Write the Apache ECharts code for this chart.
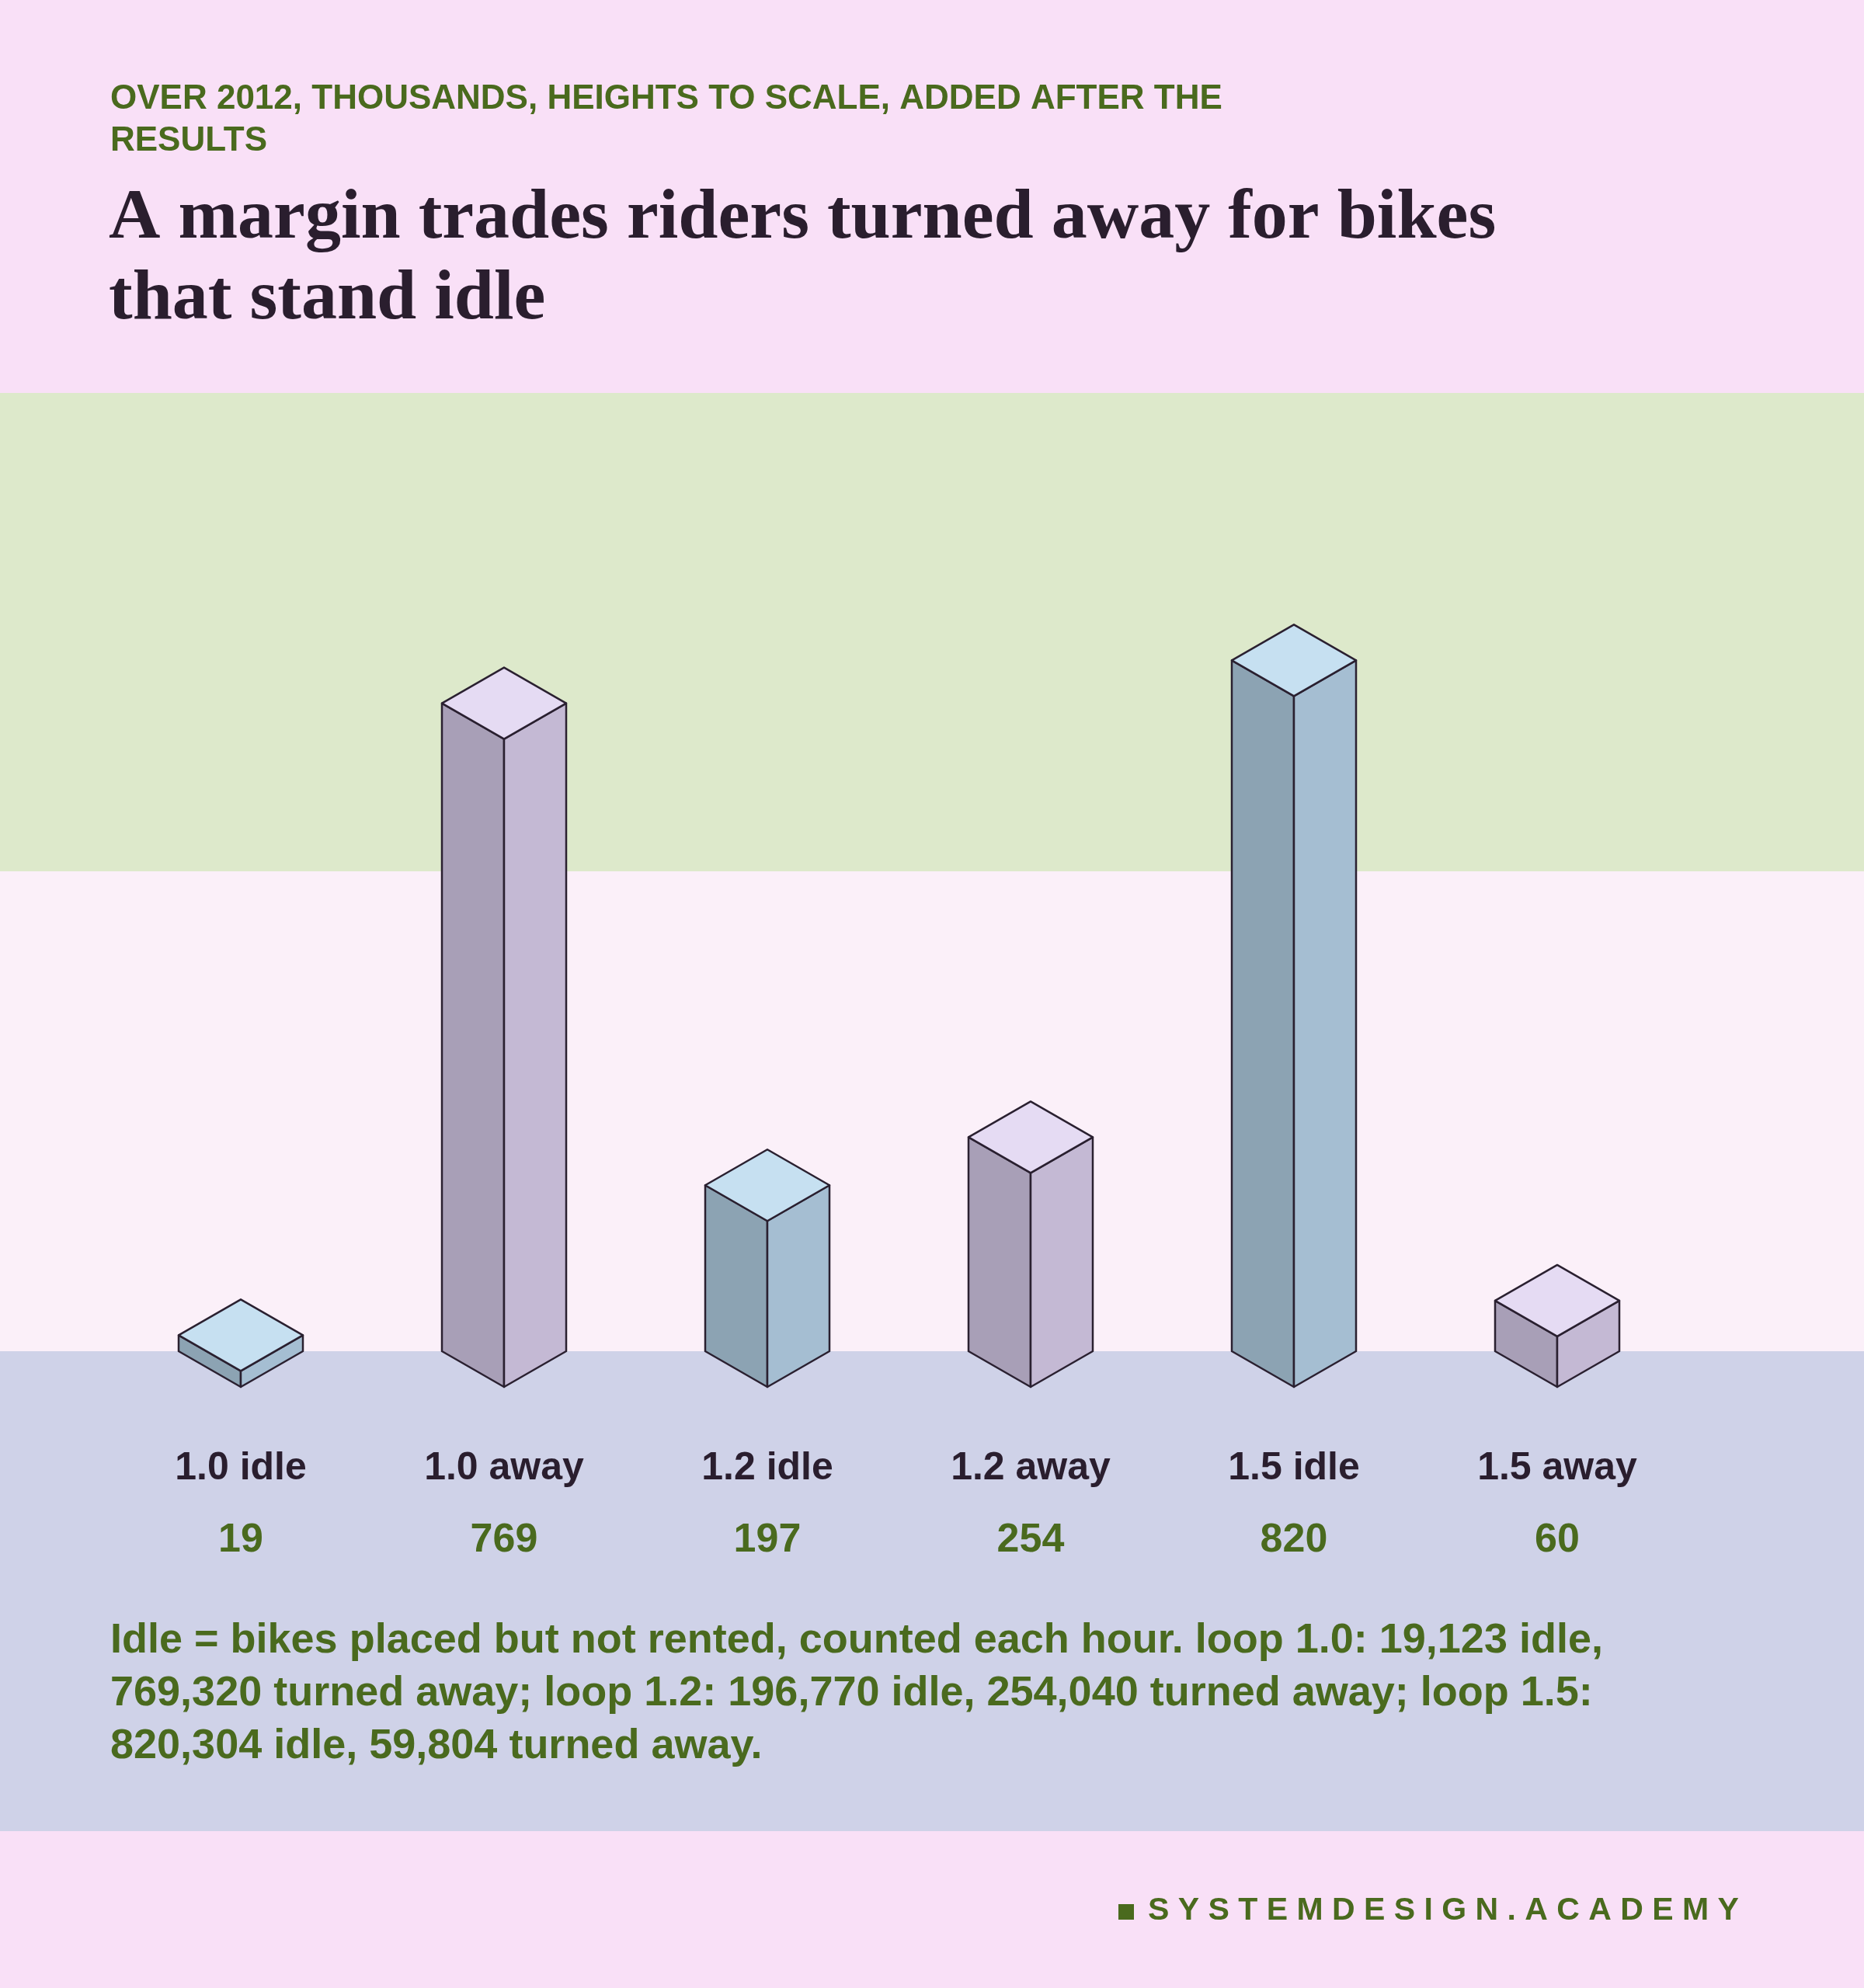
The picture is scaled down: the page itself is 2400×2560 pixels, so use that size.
<!DOCTYPE html>
<html><head><meta charset="utf-8">
<script src="https://cdn.jsdelivr.net/npm/echarts@6/dist/echarts.min.js"></script>
<style>html,body{margin:0;padding:0;background:#f9e0f7}#c{width:2400px;height:2560px}</style>
</head><body><div id="c"></div>
<script>
const categories = ['1.0 idle','1.0 away','1.2 idle','1.2 away','1.5 idle','1.5 away'];
const values = [19, 769, 197, 254, 820, 60];
const kinds = ['idle','away','idle','away','idle','away'];
const valueLabels = ['19','769','197','254','820','60'];
const subtitleLines = ['OVER 2012, THOUSANDS, HEIGHTS TO SCALE, ADDED AFTER THE','RESULTS'];
const titleLines = ['A margin trades riders turned away for bikes','that stand idle'];
const noteLines = ['Idle = bikes placed but not rented, counted each hour. loop 1.0: 19,123 idle,',
 '769,320 turned away; loop 1.2: 196,770 idle, 254,040 turned away; loop 1.5:',
 '820,304 idle, 59,804 turned away.'];

const colors = {
  idle: {l:'#8ca3b3', r:'#a5bed2', t:'#c6e0f1'},
  away: {l:'#a89fb7', r:'#c4b9d4', t:'#e5dbf3'}
};
const stroke = '#2a2030';
const W = 80, H = 46;
const green = '#4a6a1e';

const chart = echarts.init(document.getElementById('c'));
const graphics = [
  {type:'rect', shape:{x:0,y:506,width:2400,height:616}, style:{fill:'#dde9cb'}, z:-10},
  {type:'rect', shape:{x:0,y:1122,width:2400,height:618}, style:{fill:'#fbf0f9'}, z:-10},
  {type:'rect', shape:{x:0,y:1740,width:2400,height:618}, style:{fill:'#cfd2e8'}, z:-10},
];
subtitleLines.forEach((t,i)=>graphics.push({type:'text', left:142, top:106+i*54,
  style:{text:t, fill:green, font:'bold 44px "Liberation Sans", Arial'}}));
titleLines.forEach((t,i)=>graphics.push({type:'text', left:140, top:236+i*104,
  style:{text:t, fill:'#2a1e2e', font:'bold 92px "Liberation Serif", serif'}}));
noteLines.forEach((t,i)=>graphics.push({type:'text', left:142, top:2086+i*68,
  style:{text:t, fill:green, font:'bold 54px "Liberation Sans", Arial'}}));
graphics.push({type:'rect', shape:{x:1440,y:2452,width:20,height:20}, style:{fill:green}});
graphics.push({type:'text', left:1478, top:2440,
  style:{text:'S Y S T E M D E S I G N . A C A D E M Y', fill:green, font:'bold 41px "Liberation Sans", Arial'}});

chart.setOption({
  backgroundColor:'#f9e0f7',
  animation:false,
  graphic: graphics,
  grid:{left:140.5, width:2034, top:701, bottom:774},
  xAxis:{type:'category', data:categories, show:false},
  yAxis:{type:'value', min:0, max:1000, show:false},
  series:[{
    type:'custom',
    data: values.map((v,i)=>[i,v]),
    renderItem:(params, api)=>{
      const i = api.value(0), v = api.value(1);
      const top = api.coord([i, v]), base = api.coord([i, 0]);
      const cx = top[0], yt = top[1], yb = base[1];
      const c = colors[kinds[i]];
      const ls = {stroke, lineWidth:2.5, lineJoin:'round'};
      return {type:'group', children:[
        {type:'polygon', shape:{points:[[cx-W,yt-H],[cx,yt],[cx,yb],[cx-W,yb-H]]}, style:Object.assign({fill:c.l},ls)},
        {type:'polygon', shape:{points:[[cx+W,yt-H],[cx,yt],[cx,yb],[cx+W,yb-H]]}, style:Object.assign({fill:c.r},ls)},
        {type:'polygon', shape:{points:[[cx-W,yt-H],[cx,yt-2*H],[cx+W,yt-H],[cx,yt]]}, style:Object.assign({fill:c.t},ls)},
        {type:'text', style:{text:categories[i], x:cx, y:1891, align:'center', verticalAlign:'middle',
          fill:'#2a1e2e', font:'bold 50px "Liberation Sans", Arial'}},
        {type:'text', style:{text:valueLabels[i], x:cx, y:1984, align:'center', verticalAlign:'middle',
          fill:green, font:'bold 52px "Liberation Sans", Arial'}}
      ]};
    }
  }]
});
</script></body></html>
